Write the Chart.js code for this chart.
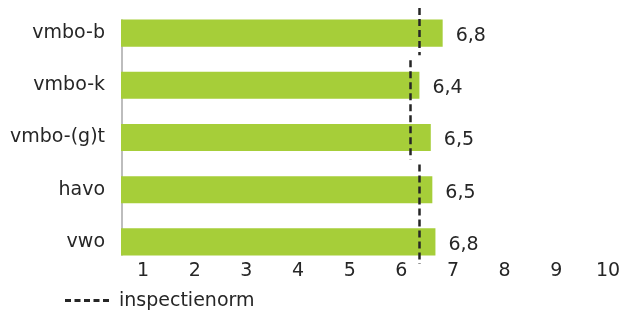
<!DOCTYPE html>
<html>
<head>
<meta charset="utf-8">
<script src="https://cdn.jsdelivr.net/npm/chart.js@4.4.1/dist/chart.umd.min.js"></script>
<style>
  html, body { margin: 0; padding: 0; background: #ffffff; }
  #wrap { position: relative; width: 626px; height: 313px; }
  #legend { position: absolute; left: 65px; top: 288px; font-family: "DejaVu Sans", sans-serif; font-size: 19px; color: #262626; white-space: nowrap; }
  #legend .dash { display: inline-block; width: 44px; height: 0; border-top: 3px dashed #262626; vertical-align: middle; margin-right: 10px; }
</style>
</head>
<body>
<div id="wrap">
  <canvas id="c" width="626" height="313"></canvas>
  <div id="legend"><span class="dash"></span>inspectienorm</div>
</div>
<script>
const categories = ['vmbo-b', 'vmbo-k', 'vmbo-(g)t', 'havo', 'vwo'];
const scores = [6.8, 6.35, 6.57, 6.6, 6.66];
const scoreLabels = ['6,8', '6,4', '6,5', '6,5', '6,8'];
const norm = [6.35, 6.17, 6.17, 6.35, 6.35];
const xTicks = [1, 2, 3, 4, 5, 6, 7, 8, 9, 10];
const legendLabel = 'inspectienorm';

const FONT = '"DejaVu Sans", sans-serif';
const TEXT = '#262626';
const GREEN = '#a6ce39';

const extras = {
  id: 'extras',
  beforeDatasetsDraw(chart) {
    const ctx = chart.ctx;
    const meta = chart.getDatasetMeta(0);
    const first = meta.data[0], last = meta.data[meta.data.length - 1];
    const x = chart.chartArea.left;
    ctx.save();
    ctx.strokeStyle = '#bdbdbd';
    ctx.lineWidth = 2;
    ctx.beginPath();
    ctx.moveTo(x + 1, first.y - first.height / 2);
    ctx.lineTo(x + 1, last.y + last.height / 2);
    ctx.stroke();
    ctx.restore();
  },
  afterDatasetsDraw(chart) {
    const ctx = chart.ctx;
    const xs = chart.scales.x, ys = chart.scales.y;
    const half = (ys.getPixelForValue(1) - ys.getPixelForValue(0)) / 2;
    ctx.save();
    ctx.strokeStyle = TEXT;
    ctx.lineWidth = 2.5;
    ctx.setLineDash([7, 4]);
    let i = 0;
    while (i < norm.length) {
      let j = i;
      while (j + 1 < norm.length && norm[j + 1] === norm[i]) j++;
      const px = Math.round(xs.getPixelForValue(norm[i])) + 0.5;
      const y0 = ys.getPixelForValue(i) - half + 1;
      const y1 = ys.getPixelForValue(j) + half - 4;
      ctx.beginPath();
      ctx.moveTo(px, y0);
      ctx.lineTo(px, y1);
      ctx.stroke();
      i = j + 1;
    }
    ctx.setLineDash([]);
    const meta = chart.getDatasetMeta(0);
    ctx.fillStyle = TEXT;
    ctx.font = '19px ' + FONT;
    ctx.textAlign = 'left';
    ctx.textBaseline = 'middle';
    meta.data.forEach((bar, k) => {
      ctx.fillText(scoreLabels[k], bar.x + 13, bar.y + 3);
    });
    // x tick labels, positioned through the x scale
    ctx.textAlign = 'center';
    const ty = chart.chartArea.bottom + 3;
    xTicks.forEach(v => {
      ctx.fillText(String(v), xs.getPixelForValue(v), ty);
    });
    ctx.restore();
  }
};

new Chart(document.getElementById('c'), {
  type: 'bar',
  data: {
    labels: categories,
    datasets: [{
      label: 'score',
      data: scores,
      backgroundColor: GREEN,
      borderWidth: 0,
      barPercentage: 0.52,
      categoryPercentage: 1.0
    }]
  },
  options: {
    indexAxis: 'y',
    responsive: false,
    animation: false,
    layout: { padding: { top: 7, right: 18, left: 0, bottom: 0 } },
    plugins: { legend: { display: false }, tooltip: { enabled: false } },
    scales: {
      x: {
        min: 0.574,
        max: 10,
        afterBuildTicks(axis) { axis.ticks = xTicks.map(v => ({ value: v })); },
        afterFit(axis) { axis.height = 45; axis.paddingLeft = 0; axis.paddingRight = 0; },
        grid: { display: false, drawTicks: false },
        border: { display: false },
        ticks: { display: false }
      },
      y: {
        afterFit(axis) { axis.width = 121; axis.paddingTop = 0; axis.paddingBottom = 0; },
        grid: { display: false, drawTicks: false },
        border: { display: false },
        ticks: { color: TEXT, font: { family: FONT, size: 19 }, padding: 16 }
      }
    }
  },
  plugins: [extras]
});
</script>
</body>
</html>
